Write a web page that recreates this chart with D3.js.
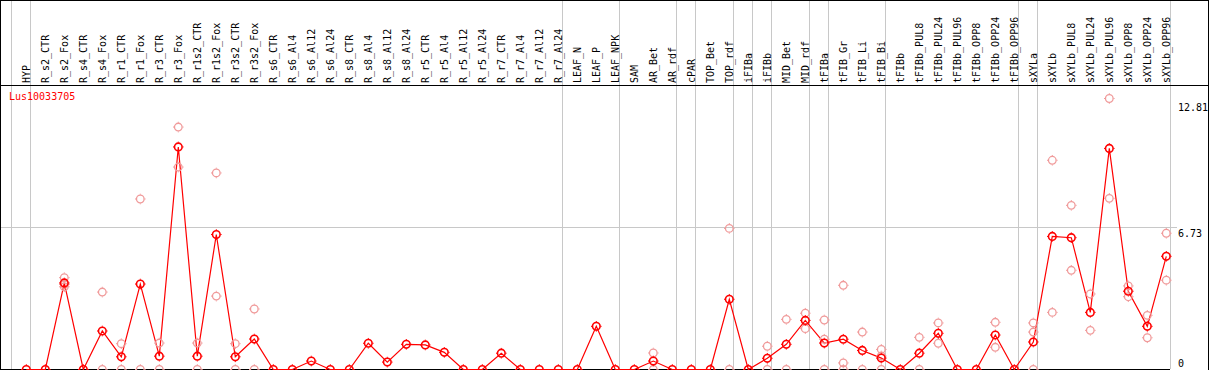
<!DOCTYPE html>
<html>
<head>
<meta charset="utf-8">
<script src="https://cdn.jsdelivr.net/npm/d3@7"></script>
<style>
  body { margin: 0; background: #fff; }
  svg { display: block; font-family: "DejaVu Sans Mono", monospace; font-size: 10px; }
</style>
</head>
<body>
<div id="chart"></div>
<script>
const title = 'Lus10033705'

const categories = [
  'HYP', 'R_s2_CTR', 'R_s2_Fox', 'R_s4_CTR', 'R_s4_Fox', 'R_r1_CTR', 'R_r1_Fox',
  'R_r3_CTR', 'R_r3_Fox', 'R_r1s2_CTR', 'R_r1s2_Fox', 'R_r3s2_CTR', 'R_r3s2_Fox',
  'R_s6_CTR', 'R_s6_Al4', 'R_s6_Al12', 'R_s6_Al24', 'R_s8_CTR', 'R_s8_Al4',
  'R_s8_Al12', 'R_s8_Al24', 'R_r5_CTR', 'R_r5_Al4', 'R_r5_Al12', 'R_r5_Al24',
  'R_r7_CTR', 'R_r7_Al4', 'R_r7_Al12', 'R_r7_Al24', 'LEAF_N', 'LEAF_P', 'LEAF_NPK',
  'SAM', 'AR_Bet', 'AR_rdf', 'cPAR', 'TOP_Bet', 'TOP_rdf', 'iFIBa', 'iFIBb',
  'MID_Bet', 'MID_rdf', 'tFIBa', 'tFIB_Gr', 'tFIB_Li', 'tFIB_Bi', 'tFIBb',
  'tFIBb_PUL8', 'tFIBb_PUL24', 'tFIBb_PUL96', 'tFIBb_OPP8', 'tFIBb_OPP24', 'tFIBb_OPP96',
  'sXYLa', 'sXYLb', 'sXYLb_PUL8', 'sXYLb_PUL24', 'sXYLb_PUL96', 'sXYLb_OPP8',
  'sXYLb_OPP24', 'sXYLb_OPP96'
]

// mean expression per sample (red line)
const means = [
  0, 0, 4.09, 0, 1.82, 0.6, 4.04, 0.63, 10.52, 0.63, 6.38, 0.6, 1.44,
  0, 0, 0.4, 0, 0, 1.24, 0.35, 1.19, 1.16, 0.81, 0, 0, 0.77, 0, 0, 0,
  0, 2.04, 0, 0, 0.4, 0, 0, 0, 3.32, 0, 0.53, 1.19, 2.32, 1.25, 1.43,
  0.9, 0.54, 0, 0.77, 1.71, 0, 0, 1.63, 0, 1.3, 6.29, 6.23, 2.7, 10.45,
  3.7, 2.04, 5.35
]

// replicate values (pink circles)
const replicates = [
  [], [], [4.34, 3.91, 4.02], [], [3.66, 0], [1.22, 0], [8.06, 0],
  [1.25, 0], [11.46, 9.57], [1.25, 0], [9.29, 3.47], [1.22, 0], [2.86, 0],
  [], [], [], [], [], [], [], [], [], [], [], [], [], [], [], [],
  [], [], [], [], [0.78, 0], [], [], [], [6.67, 0], [], [1.1, 0],
  [2.37, 0], [2.66, 1.93], [2.34, 1.43, 0], [3.98, 0.31, 0],
  [1.77, 0], [0.95, 0.64, 0], [], [1.52, 0], [2.2, 1.24], [], [],
  [2.23, 1.05], [], [2.2, 1.77, 0], [9.89, 2.7], [7.76, 4.69],
  [3.57, 1.85], [12.81, 8.09], [3.95, 3.44], [2.56, 1.5], [6.44, 4.22]
]

// first sample of each group (grey separators)
const groupStarts = [
  'HYP', 'R_s2_CTR', 'LEAF_N', 'SAM', 'cPAR', 'TOP_Bet', 'iFIBa', 'iFIBb',
  'MID_Bet', 'tFIBa', 'tFIB_Gr', 'tFIBb', 'sXYLa', 'sXYLb'
]

const yMax = 12.81
const yTicks = [0, 6.73, 12.81]

const width = 1209, height = 370
const headerBottom = 85

const svg = d3.select('#chart').append('svg')
  .attr('width', width)
  .attr('height', height)

const x = d3.scaleBand().domain(categories).range([11, 1170]).padding(0)
const px = d => x(d) + 15.3
const y = d3.scaleLinear().domain([0, yMax]).range([369.5, 98.5])

// grey horizontal grid line at mid value
svg.append('line')
  .attr('x1', 0).attr('x2', 1177)
  .attr('y1', Math.round(y(yTicks[1])) + 0.5).attr('y2', Math.round(y(yTicks[1])) + 0.5)
  .attr('stroke', '#c8c8c8')

// group separators
svg.selectAll('.sep')
  .data(groupStarts.concat(['__end']))
  .enter()
  .append('line')
  .attr('class', 'sep')
  .attr('x1', d => (d === '__end' ? x.range()[1] : x(d)) + 0.5)
  .attr('x2', d => (d === '__end' ? x.range()[1] : x(d)) + 0.5)
  .attr('y1', 0).attr('y2', 369)
  .attr('stroke', '#c8c8c8')

// frame
svg.append('line').attr('x1', 0).attr('x2', width).attr('y1', 0.5).attr('y2', 0.5).attr('stroke', '#000')
svg.append('line').attr('x1', 0).attr('x2', width).attr('y1', headerBottom + 0.5).attr('y2', headerBottom + 0.5).attr('stroke', '#000')
svg.append('line').attr('x1', 0.5).attr('x2', 0.5).attr('y1', 0).attr('y2', height).attr('stroke', '#000')
svg.append('line').attr('x1', width - 0.5).attr('x2', width - 0.5).attr('y1', 0).attr('y2', height).attr('stroke', '#000')
svg.append('line').attr('x1', 0).attr('x2', 1170).attr('y1', 369.5).attr('y2', 369.5).attr('stroke', '#000')

// sample labels
svg.selectAll('.lbl')
  .data(categories)
  .enter()
  .append('text')
  .attr('class', 'lbl')
  .attr('transform', d => 'translate(' + (px(d) + 4) + ',' + 83 + ')rotate(-90)')
  .attr('fill', '#000')
  .text(d => d)

// title
svg.append('text')
  .attr('x', 9).attr('y', 100)
  .attr('fill', '#ff0000')
  .text(title)

// y tick labels
svg.selectAll('.ytick')
  .data(yTicks)
  .enter()
  .append('text')
  .attr('class', 'ytick')
  .attr('x', 1178)
  .attr('y', d => d === 0 ? y(d) - 3 : y(d) + (d === yMax ? 12 : 10))
  .attr('fill', '#000')
  .text(d => d === 0 ? '0' : d.toFixed(2))

function marker(sel, color, sw) {
  sel.append('circle')
    .attr('cx', d => d.x).attr('cy', d => d.y)
    .attr('r', 3.8)
    .attr('fill', 'none')
    .attr('stroke', color)
    .attr('stroke-width', sw)
  sel.append('path')
    .attr('d', d => 'M' + (d.x - 5.3) + ',' + d.y + 'h1M' + (d.x + 4.3) + ',' + d.y + 'h1' +
      'M' + d.x + ',' + (d.y - 5.3) + 'v1M' + d.x + ',' + (d.y + 4.3) + 'v1')
    .attr('stroke', color)
    .attr('stroke-width', 1)
}

// mean line
const line = d3.line().x(d => px(d.cat)).y(d => y(d.v))
const meanData = categories.map((c, i) => ({cat: c, v: means[i]}))
svg.append('path')
  .datum(meanData)
  .attr('d', line)
  .attr('fill', 'none')
  .attr('stroke', '#ff0000')
  .attr('stroke-width', 1.2)

// replicate points
const repData = []
categories.forEach((c, i) => {
  replicates[i].forEach(v => repData.push({x: px(c), y: y(v)}))
})
const reps = svg.selectAll('.rep').data(repData).enter().append('g').attr('class', 'rep')
marker(reps, '#f09a9a', 1.3)

// mean points
const mpts = svg.selectAll('.mean')
  .data(meanData.map(d => ({x: px(d.cat), y: y(d.v)})))
  .enter().append('g').attr('class', 'mean')
marker(mpts, '#ff0000', 1.6)
</script>
</body>
</html>
